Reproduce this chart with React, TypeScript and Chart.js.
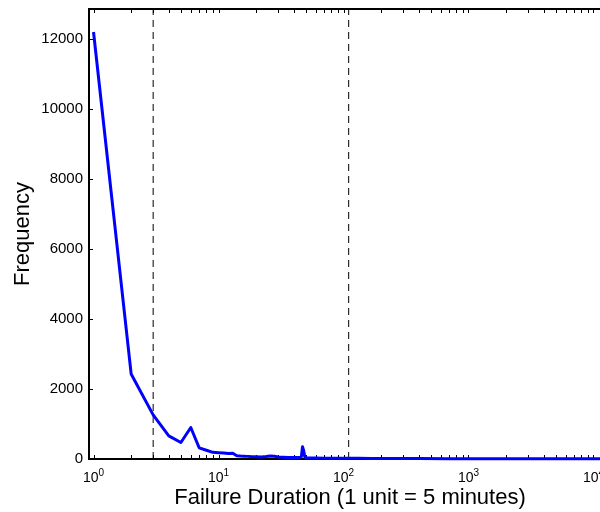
import React, { useEffect, useRef } from "react";
import { Chart, registerables } from "chart.js";

Chart.register(...registerables);

// ---- data ----
const durations = [
  1, 2, 3, 4, 5, 6, 7, 8, 9, 10, 11, 12, 13, 14, 15, 16, 17, 18, 20, 22, 24, 26,
  28, 30, 33, 36, 40, 44, 46, 47, 48, 49, 50, 55, 60, 70, 80, 100, 130, 170, 250,
  400, 700, 1000, 2000, 4000, 10000, 15000,
];
const frequencies = [
  12200, 2430, 1260, 660, 470, 900, 320, 250, 190, 180, 170, 155, 165, 95, 85, 80,
  75, 70, 65, 60, 70, 85, 80, 55, 50, 45, 45, 40, 60, 350, 240, 60, 35, 30, 28, 25,
  22, 20, 18, 15, 12, 12, 10, 10, 8, 6, 5, 5,
];
const thresholds = [3, 110];
const xMajorExponents = [0, 1, 2, 3, 4];
const xMinorMultipliers = [2, 3, 4, 5, 6, 7, 8, 9];
const yTickValues = [0, 2000, 4000, 6000, 8000, 10000, 12000];
const xTitle = "Failure Duration (1 unit = 5 minutes)";
const yTitle = "Frequency";
const xMin = 0.92;
const xMax = 16300;
const yMin = 0;
const yMax = 12857;

const FONT = '"Liberation Sans", Arial, Helvetica, sans-serif';

const matlabAxes = {
  id: "matlabAxes",
  beforeDatasetsDraw(chart: any) {
    const { ctx, chartArea } = chart;
    const xs = chart.scales.x;
    const ys = chart.scales.y;
    const { left, right, top, bottom } = chartArea;
    const tl = 4;
    ctx.save();
    // ticks
    ctx.strokeStyle = "#000";
    ctx.lineWidth = 1;
    ctx.beginPath();
    const xTickVals: number[] = [];
    xMajorExponents.forEach((e) => {
      xTickVals.push(Math.pow(10, e));
      xMinorMultipliers.forEach((m) => xTickVals.push(m * Math.pow(10, e)));
    });
    xTickVals.forEach((v) => {
      if (v < xMin || v > xMax) return;
      const px = Math.round(xs.getPixelForValue(v)) + 0.5;
      ctx.moveTo(px, bottom);
      ctx.lineTo(px, bottom - tl);
      ctx.moveTo(px, top);
      ctx.lineTo(px, top + tl);
    });
    yTickValues.forEach((v) => {
      const py = Math.round(ys.getPixelForValue(v)) + 0.5;
      ctx.moveTo(left, py);
      ctx.lineTo(left + tl, py);
      ctx.moveTo(right, py);
      ctx.lineTo(right - tl, py);
    });
    ctx.stroke();
    // box
    ctx.lineWidth = 2;
    ctx.strokeRect(left, top, right - left, bottom - top);

    // y tick labels
    ctx.fillStyle = "#000";
    ctx.font = `15px ${FONT}`;
    ctx.textAlign = "right";
    ctx.textBaseline = "middle";
    yTickValues.forEach((v) => {
      const py = ys.getPixelForValue(v);
      ctx.fillText(String(v), left - 6, py);
    });

    // x tick labels: 10^e
    xMajorExponents.forEach((e) => {
      const px = xs.getPixelForValue(Math.pow(10, e));
      ctx.font = `14px ${FONT}`;
      const w1 = ctx.measureText("10").width;
      ctx.font = `10px ${FONT}`;
      const w2 = ctx.measureText(String(e)).width;
      const x0 = px - (w1 + w2) / 2;
      ctx.textAlign = "left";
      ctx.textBaseline = "alphabetic";
      ctx.font = `14px ${FONT}`;
      ctx.fillText("10", x0, bottom + 23);
      ctx.font = `10px ${FONT}`;
      ctx.fillText(String(e), x0 + w1, bottom + 17);
    });

    // axis titles
    ctx.font = `22px ${FONT}`;
    ctx.textAlign = "center";
    ctx.textBaseline = "alphabetic";
    ctx.fillText(xTitle, 350, 504);
    ctx.save();
    ctx.translate(29, 234);
    ctx.rotate(-Math.PI / 2);
    ctx.fillText(yTitle, 0, 0);
    ctx.restore();
    ctx.restore();
  },
};

export default function App() {
  const ref = useRef<HTMLCanvasElement>(null);
  useEffect(() => {
    if (!ref.current) return;
    const chart = new Chart(ref.current, {
      type: "line",
      data: {
        datasets: [
          {
            data: durations.map((d, i) => ({ x: d, y: frequencies[i] })),
            borderColor: "#0000ff",
            borderWidth: 3,
            pointRadius: 0,
            tension: 0,
            clip: false as any,
            borderJoinStyle: "round",
          },
          ...thresholds.map((t) => ({
            data: [
              { x: t, y: yMin },
              { x: t, y: yMax },
            ],
            borderColor: "#000",
            borderWidth: 1,
            borderDash: [7, 5],
            pointRadius: 0,
          })),
        ],
      },
      options: {
        animation: false,
        responsive: false,
        devicePixelRatio: 1,
        layout: { padding: { left: 89, right: 20, top: 9, bottom: 53 } },
        plugins: { legend: { display: false }, tooltip: { enabled: false } },
        scales: {
          x: { type: "logarithmic", min: xMin, max: xMax, display: false },
          y: { type: "linear", min: yMin, max: yMax, display: false },
        },
      },
      plugins: [matlabAxes],
    });
    return () => chart.destroy();
  }, []);
  return (
    <div
      style={{
        position: "absolute",
        left: 0,
        top: 0,
        width: 600,
        height: 512,
        overflow: "hidden",
        background: "#fff",
      }}
    >
      <canvas ref={ref} width={640} height={512} style={{ display: "block" }} />
    </div>
  );
}
